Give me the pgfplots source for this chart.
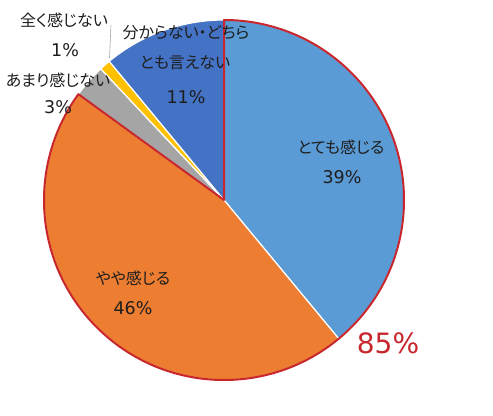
\documentclass[border=0pt]{standalone}
\usepackage{pgfplots}
\pgfplotsset{compat=1.18}
\usepackage{pgfplotstable}
\usepackage{fontspec}
\setmainfont{DejaVu Sans}
\newfontfamily\jp[RawFeature=+palt]{Noto Sans CJK JP}
\definecolor{cA}{HTML}{5B9BD5}
\definecolor{cB}{HTML}{ED7D31}
\definecolor{cC}{HTML}{A5A5A5}
\definecolor{cD}{HTML}{FFC000}
\definecolor{cE}{HTML}{4472C4}
\definecolor{redline}{RGB}{200,38,45}
\definecolor{txt}{HTML}{1E1E1E}
\pgfplotstableread{
idx value
0 39
1 46
2 3
3 1
4 11
}\piedata
\pgfplotstablegetelem{0}{value}\of\piedata \let\vA\pgfplotsretval
\pgfplotstablegetelem{1}{value}\of\piedata \let\vB\pgfplotsretval
\pgfplotstablegetelem{2}{value}\of\piedata \let\vC\pgfplotsretval
\pgfplotstablegetelem{3}{value}\of\piedata \let\vD\pgfplotsretval
\pgfplotstablegetelem{4}{value}\of\piedata \let\vE\pgfplotsretval
\pgfmathsetmacro\aA{90}
\pgfmathsetmacro\aB{\aA-3.6*\vA}
\pgfmathsetmacro\aC{\aB-3.6*\vB}
\pgfmathsetmacro\aD{\aC-3.6*\vC}
\pgfmathsetmacro\aE{\aD-3.6*\vD}
\pgfmathsetmacro\aF{\aE-3.6*\vE}
\def\R{180bp}
\begin{document}
\begin{tikzpicture}
\begin{axis}[
  hide axis, scale only axis,
  width=493bp, height=416bp,
  xmin=0, xmax=493, ymin=0, ymax=416,
  clip=false,
]
\path (axis cs:0,0) (axis cs:493,416);
\def\C{(axis cs:224,216)}
\filldraw[fill=cA, draw=white, line width=1.2bp] \C -- ++(\aA:\R) arc[start angle=\aA, end angle=\aB, radius=\R] -- cycle;
\filldraw[fill=cB, draw=white, line width=1.2bp] \C -- ++(\aB:\R) arc[start angle=\aB, end angle=\aC, radius=\R] -- cycle;
\filldraw[fill=cC, draw=white, line width=1.2bp] \C -- ++(\aC:\R) arc[start angle=\aC, end angle=\aD, radius=\R] -- cycle;
\filldraw[fill=cD, draw=white, line width=1.2bp] \C -- ++(\aD:\R) arc[start angle=\aD, end angle=\aE, radius=\R] -- cycle;
\filldraw[fill=cE, draw=white, line width=1.2bp] \C -- ++(\aE:\R) arc[start angle=\aE, end angle=\aF, radius=\R] -- cycle;
\draw[redline, line width=2bp, line join=round] \C -- ++(\aA:\R) arc[start angle=\aA, end angle=\aC, radius=\R] -- cycle;
\draw[gray!70, line width=0.6bp] (axis cs:111,391) -- (axis cs:109.5,358);
\begin{scope}[every node/.style={font=\jp\fontsize{16bp}{18bp}\selectfont, text=txt, inner sep=0pt}]
\node at (axis cs:341,269) {とても感じる};
\node at (axis cs:133,138) {やや感じる};
\node at (axis cs:58,336) {あまり感じない};
\node at (axis cs:64,396) {全く感じない};
\node at (axis cs:186,383) {分からない・どちら};
\node at (axis cs:185,353) {とも言えない};
\end{scope}
\begin{scope}[every node/.style={font=\fontsize{17.5bp}{19bp}\selectfont, text=txt, inner sep=0pt}]
\node at (axis cs:342,239) {39\%};
\node at (axis cs:133,108) {46\%};
\node at (axis cs:58,309) {3\%};
\node at (axis cs:65,366) {1\%};
\node at (axis cs:186,319) {11\%};
\end{scope}
\node[font=\fontsize{28bp}{30bp}\selectfont, text=redline, inner sep=0pt] at (axis cs:388,73) {85\%};
\end{axis}
\end{tikzpicture}
\end{document}
